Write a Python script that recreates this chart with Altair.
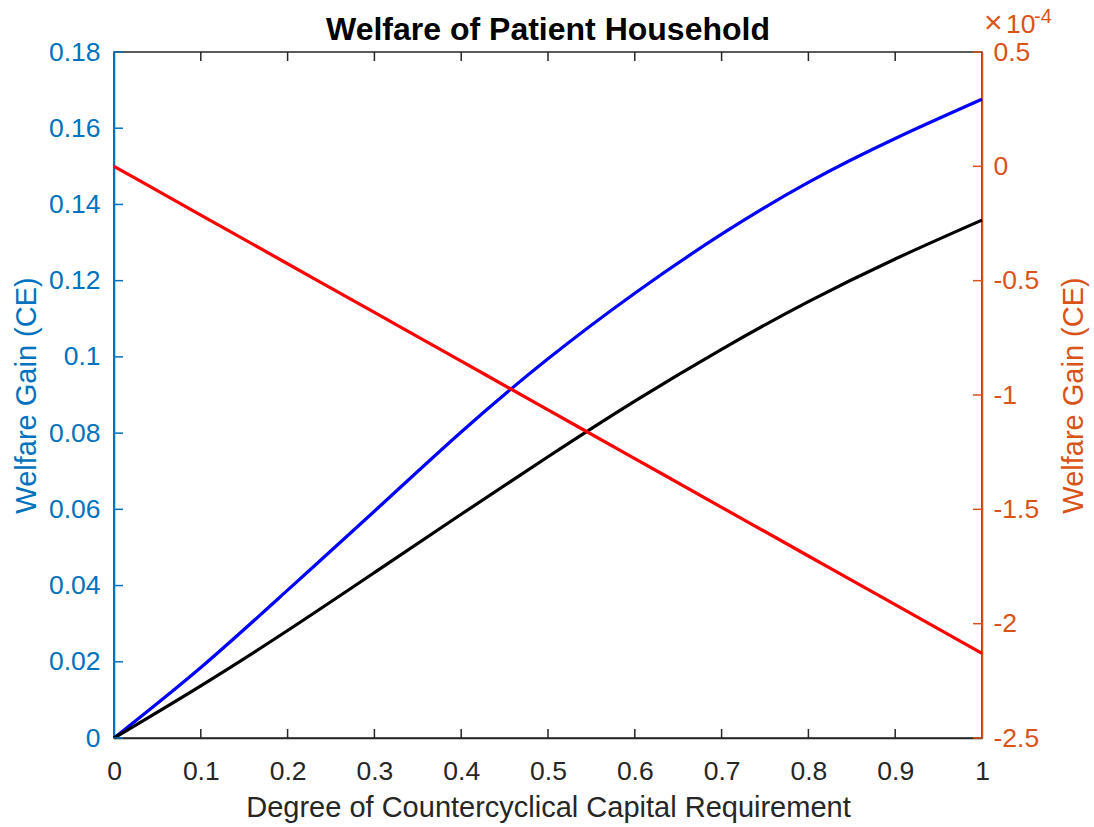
import altair as alt
import pandas as pd

# Degree of countercyclical capital requirement
degree = [0.0, 0.1, 0.2, 0.3, 0.4, 0.5, 0.6, 0.7, 0.8, 0.9, 1.0]
# Welfare gains (CE), left axis
gain_blue = [0.0, 0.0185, 0.0388, 0.0595, 0.0803, 0.0995, 0.1167, 0.1322, 0.1458, 0.1573, 0.1676]
gain_black = [0.0, 0.0137, 0.0282, 0.0434, 0.0587, 0.0738, 0.0884, 0.1020, 0.1145, 0.1257, 0.1359]
# Welfare gain (CE) in units of 1e-4, right axis
gain_red = [0.0, -0.213, -0.426, -0.639, -0.852, -1.065, -1.278, -1.491, -1.704, -1.917, -2.130]

x_ticks = [0.0, 0.1, 0.2, 0.3, 0.4, 0.5, 0.6, 0.7, 0.8, 0.9, 1.0]
left_ticks = [0.0, 0.02, 0.04, 0.06, 0.08, 0.10, 0.12, 0.14, 0.16, 0.18]
right_ticks = [-2.5, -2.0, -1.5, -1.0, -0.5, 0.0, 0.5]

FONT = "Liberation Sans"
DARK = "#262626"
LEFT_C = "#0072BD"
RIGHT_C = "#D95319"
W, H = 868, 686
TICK = 9

left_df = pd.DataFrame({
    "x": degree * 2,
    "v": gain_blue + gain_black,
    "s": ["blue"] * len(degree) + ["black"] * len(degree),
})
red_df = pd.DataFrame({"x": degree, "v": gain_red})

x_scale = alt.Scale(domain=[0, 1], nice=False, zero=False)
yl_scale = alt.Scale(domain=[0, 0.18], nice=False, zero=False)
yr_scale = alt.Scale(domain=[-2.5, 0.5], nice=False, zero=False)

# One shared x axis definition, used by every layer that has an x field
x_axis = alt.Axis(
    values=x_ticks, format="~g", ticks=False, grid=False, labelFlush=False,
    domainColor=DARK, domainWidth=1.5, labelColor=DARK, labelFont=FONT,
    labelFontSize=26.5, labelPadding=20, title="Degree of Countercyclical Capital Requirement",
    titleFont=FONT, titleFontSize=29, titleFontWeight="normal", titleColor=DARK,
    titleBaseline="alphabetic", titleY=78,
)

left_lines = alt.Chart(left_df).mark_line(strokeWidth=3.2, interpolate="natural").encode(
    x=alt.X("x:Q", scale=x_scale, axis=x_axis),
    y=alt.Y("v:Q", scale=yl_scale, axis=alt.Axis(
        orient="left", values=left_ticks, format=".2~f", ticks=False, grid=False,
        domainColor=LEFT_C, domainWidth=1.5, labelColor=LEFT_C, labelFont=FONT,
        labelFontSize=26.5, labelPadding=14, title="Welfare Gain (CE)",
        titleFont=FONT, titleFontSize=29, titleFontWeight="normal", titleColor=LEFT_C,
        titleAngle=270, titleBaseline="alphabetic", titleX=-79,
    )),
    color=alt.Color("s:N", scale=alt.Scale(domain=["blue", "black"], range=["#0000FF", "#000000"]), legend=None),
)

red_line = alt.Chart(red_df).mark_line(strokeWidth=3.2, color="#FF0000", interpolate="natural").encode(
    x=alt.X("x:Q", scale=x_scale, axis=x_axis),
    y=alt.Y("v:Q", scale=yr_scale, axis=alt.Axis(
        orient="right", values=right_ticks, labelExpr="toString(datum.value)",
        ticks=False, grid=False,
        domainColor=RIGHT_C, domainWidth=1.5, labelColor=RIGHT_C, labelFont=FONT,
        labelFontSize=26.5, labelPadding=11, title="Welfare Gain (CE)",
        titleFont=FONT, titleFontSize=29, titleFontWeight="normal", titleColor=RIGHT_C,
        titleAngle=270, titleBaseline="alphabetic", titleX=100,
    )),
)

# Inward tick marks on all four sides
lt_df = pd.DataFrame({"t": left_ticks})
left_tick_marks = alt.Chart(lt_df).mark_rule(color=LEFT_C, strokeWidth=1.5).encode(
    y=alt.Y("t:Q", scale=yl_scale, axis=None),
    x=alt.value(0), x2=alt.value(TICK),
)
rt_df = pd.DataFrame({"t": right_ticks})
right_tick_marks = alt.Chart(rt_df).mark_rule(color=RIGHT_C, strokeWidth=1.5).encode(
    y=alt.Y("t:Q", scale=yr_scale, axis=None),
    x=alt.value(W - TICK), x2=alt.value(W),
)
xt_df = pd.DataFrame({"x": x_ticks[1:-1]})
bottom_ticks = alt.Chart(xt_df).mark_rule(color=DARK, strokeWidth=1.5).encode(
    x=alt.X("x:Q", scale=x_scale, axis=x_axis),
    y=alt.value(H), y2=alt.value(H - TICK),
)
top_ticks = alt.Chart(xt_df).mark_rule(color=DARK, strokeWidth=1.5).encode(
    x=alt.X("x:Q", scale=x_scale, axis=x_axis),
    y=alt.value(0), y2=alt.value(TICK),
)

# Exponent label of the right axis
exp_times = alt.Chart(pd.DataFrame({"s": ["\u00d7"]})).mark_text(
    font=FONT, fontSize=32, color=RIGHT_C, align="left", baseline="alphabetic"
).encode(text="s:N", x=alt.value(870), y=alt.value(-19))
exp_base = alt.Chart(pd.DataFrame({"s": ["10"]})).mark_text(
    font=FONT, fontSize=26.5, color=RIGHT_C, align="left", baseline="alphabetic"
).encode(text="s:N", x=alt.value(892), y=alt.value(-19))
exp_power = alt.Chart(pd.DataFrame({"s": ["-4"]})).mark_text(
    font=FONT, fontSize=20, color=RIGHT_C, align="left", baseline="alphabetic"
).encode(text="s:N", x=alt.value(920), y=alt.value(-29))

# Chart title drawn as text above the plot area
title_mark = alt.Chart(pd.DataFrame({"s": ["Welfare of Patient Household"]})).mark_text(
    font=FONT, fontSize=32, fontWeight="bold", color="#000000", align="center", baseline="alphabetic"
).encode(text="s:N", x=alt.value(W / 2), y=alt.value(-12))

chart = alt.layer(
    left_lines, red_line, left_tick_marks, right_tick_marks,
    bottom_ticks, top_ticks, exp_times, exp_base, exp_power, title_mark,
).resolve_scale(y="independent").properties(
    width=W, height=H,
    autosize=alt.AutoSizeParams(type="none"),
    padding={"left": 114, "top": 52, "right": 112, "bottom": 89},
    background="white",
).configure_view(stroke=DARK, strokeWidth=1.5)

chart.save("out.html", embed_options={"renderer": "svg", "actions": False})
